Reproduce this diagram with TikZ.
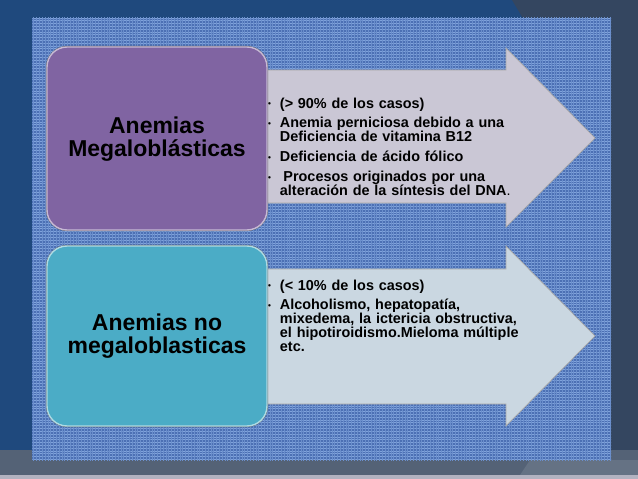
\documentclass[tikz,border=0pt]{standalone}
\usepackage{fontspec}
\setmainfont{Liberation Sans}
\usetikzlibrary{patterns.meta}

\definecolor{fondoazul}{RGB}{31,73,125}
\definecolor{fondogris}{RGB}{52,70,96}
\definecolor{bandagris}{RGB}{84,98,118}
\definecolor{panelazul}{RGB}{76,112,180}
\definecolor{tramaazul}{RGB}{128,163,220}
\definecolor{morado}{RGB}{128,100,162}
\definecolor{turquesa}{RGB}{75,172,198}
\definecolor{flechamorada}{RGB}{202,199,213}
\definecolor{flechaazul}{RGB}{202,215,225}

\newcommand{\punto}[1]{\par\hangindent=10pt\hangafter=1\noindent\makebox[10pt][l]{\raisebox{1pt}{\fontsize{7}{7}\selectfont\textbullet}}#1}

\begin{document}
\begin{tikzpicture}[x=0.03cm, y=-0.03cm,
	titulo/.style={align=center, font=\bfseries\fontsize{19.6}{19.8}\selectfont, inner sep=0},
	lista/.style={anchor=north west, text width=300*0.03cm, align=left, inner sep=0,
		font=\bfseries\fontsize{12.3}{11.9}\selectfont},
	caja/.style={rounded corners=0.6cm, draw=white!55!#1, line width=1.2pt, fill=#1},
	flecha/.style={fill=#1, draw=gray!70, line width=0.6pt}]
	\useasboundingbox (0,0) rectangle (638,479);
	
	\fill[fondoazul]	(0,0) rectangle (638,479);
	\fill[fondogris]	(512,0) -- (638,0) -- (638,460) -- (611,460) -- (611,40) -- (536,40) -- cycle;
	\fill[bandagris]	(0,450) rectangle (638,479);
	\fill[bandagris!90!white]	(530,460) -- (638,460) -- (638,475) -- (520,475) -- cycle;
	\fill[blue!10!gray!55]	(0,475) rectangle (638,479);
	
	\fill[panelazul]	(32,18) rectangle (611,460);
	\fill[pattern={Lines[angle=0, distance=2.4pt, line width=0.5pt]}, pattern color=tramaazul]	(32,18) rectangle (611,460);
	\fill[pattern={Lines[angle=90, distance=2.4pt, line width=0.5pt]}, pattern color=tramaazul!60!panelazul]	(32,18) rectangle (611,460);
	
	\draw[flecha=flechamorada]	(250,70) -- (506,70) -- (506,48) -- (595,138) -- (506,227) -- (506,203) -- (250,203) -- cycle;
	\draw[flecha=flechaazul]	(250,269) -- (506,269) -- (506,246) -- (595,336) -- (506,426) -- (506,404) -- (250,404) -- cycle;
	
	\draw[black!60, line width=1.8pt, rounded corners=0.6cm]	(47,47) rectangle (267,230);
	\draw[caja=morado]	(47,47) rectangle (267,230);
	\draw[black!60, line width=1.8pt, rounded corners=0.6cm]	(47,246) rectangle (267,426);
	\draw[caja=turquesa]	(47,246) rectangle (267,426);
	
	\node[titulo] (megalo) at (157,139) {Anemias\\Megaloblásticas};
	\node[titulo] (nomegalo) at (157,336) {Anemias no\\megaloblasticas};
	
	\node[lista] (casosmegalo) at (268,88) {\setlength{\parskip}{5pt}%
		\punto{(> 90\% de los casos)}
		\punto{Anemia perniciosa debido a una\newline Deficiencia de vitamina B12}
		\punto{Deficiencia de ácido fólico}
		\punto{\hspace{3pt}Procesos originados por una\newline alteración de la síntesis del DNA{\mdseries .}}\par};
	\node[lista] (casosnomegalo) at (268,270) {\setlength{\parskip}{5pt}%
		\punto{(< 10\% de los casos)}
		\punto{Alcoholismo, hepatopatía,\newline mixedema, la ictericia obstructiva,\newline el hipotiroidismo.Mieloma múltiple\newline etc.}\par};
\end{tikzpicture}
\end{document}
